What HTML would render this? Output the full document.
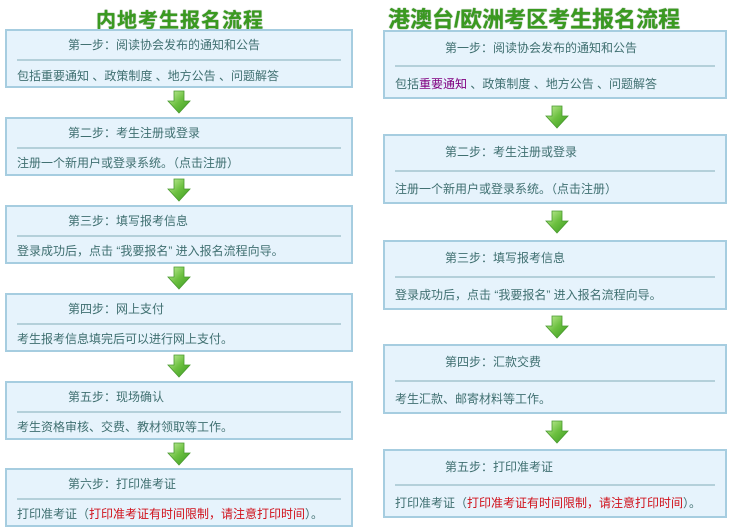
<!DOCTYPE html>
<html><head><meta charset="utf-8"><style>
body{margin:0;width:734px;height:532px;background:#fff;position:relative;overflow:hidden;font-family:"Liberation Sans","Noto Sans CJK SC",sans-serif;font-size:12px;color:#3f6f70}
.t{position:absolute;font-weight:bold;color:#3a9a20;text-shadow:0 0 1px #1a5a10;font-family:"Liberation Sans","Noto Sans CJK SC",sans-serif}
.b{position:absolute;background:#e6f3fc;border:2px solid #a6cde0;box-sizing:border-box}
.b .h{position:absolute;white-space:nowrap}
.b .l{position:absolute;height:2px;background:#b4d0da}
.b .c{position:absolute;white-space:nowrap}
.r{color:#d0101a}
.p{color:#800080}
.a{position:absolute;width:24px;height:24px}
</style></head><body>
<div class="t" style="left:96px;top:4px;font-size:20px;letter-spacing:1px">内地考生报名流程</div>
<div class="t" style="left:388px;top:2px;font-size:22px">港澳台/欧洲考区考生报名流程</div>

<!-- left -->
<div class="b" style="left:5px;top:29px;width:348px;height:59px"><div class="h" style="left:61px;top:5px">第一步：阅读协会发布的通知和公告</div><div class="l" style="left:10px;right:10px;top:28px"></div><div class="c" style="left:10px;top:36px">包括重要通知 、政策制度 、地方公告 、问题解答</div></div>
<div class="b" style="left:5px;top:117px;width:348px;height:59px"><div class="h" style="left:61px;top:5px">第二步：考生注册或登录</div><div class="l" style="left:10px;right:10px;top:28px"></div><div class="c" style="left:10px;top:35px">注册一个新用户或登录系统。（点击注册）</div></div>
<div class="b" style="left:5px;top:205px;width:348px;height:59px"><div class="h" style="left:61px;top:5px">第三步：填写报考信息</div><div class="l" style="left:10px;right:10px;top:28px"></div><div class="c" style="left:10px;top:35px">登录成功后，点击 “我要报名” 进入报名流程向导。</div></div>
<div class="b" style="left:5px;top:293px;width:348px;height:59px"><div class="h" style="left:61px;top:5px">第四步：网上支付</div><div class="l" style="left:10px;right:10px;top:28px"></div><div class="c" style="left:10px;top:35px">考生报考信息填完后可以进行网上支付。</div></div>
<div class="b" style="left:5px;top:381px;width:348px;height:59px"><div class="h" style="left:61px;top:5px">第五步：现场确认</div><div class="l" style="left:10px;right:10px;top:28px"></div><div class="c" style="left:10px;top:35px">考生资格审核、交费、教材领取等工作。</div></div>
<div class="b" style="left:5px;top:468px;width:348px;height:59px"><div class="h" style="left:61px;top:5px">第六步：打印准考证</div><div class="l" style="left:10px;right:10px;top:28px"></div><div class="c" style="left:10px;top:35px">打印准考证（<span class="r">打印准考证有时间限制，请注意打印时间</span>）。</div></div>

<!-- right -->
<div class="b" style="left:383px;top:30px;width:344px;height:69px"><div class="h" style="left:60px;top:7px">第一步：阅读协会发布的通知和公告</div><div class="l" style="left:10px;right:10px;top:33px"></div><div class="c" style="left:10px;top:43px">包括<span class="p">重要通知</span> 、政策制度 、地方公告 、问题解答</div></div>
<div class="b" style="left:383px;top:134px;width:344px;height:70px"><div class="h" style="left:60px;top:7px">第二步：考生注册或登录</div><div class="l" style="left:10px;right:10px;top:34px"></div><div class="c" style="left:10px;top:44px">注册一个新用户或登录系统。（点击注册）</div></div>
<div class="b" style="left:383px;top:240px;width:344px;height:70px"><div class="h" style="left:60px;top:7px">第三步：填写报考信息</div><div class="l" style="left:10px;right:10px;top:34px"></div><div class="c" style="left:10px;top:44px">登录成功后，点击 “我要报名” 进入报名流程向导。</div></div>
<div class="b" style="left:383px;top:344px;width:344px;height:70px"><div class="h" style="left:60px;top:7px">第四步：汇款交费</div><div class="l" style="left:10px;right:10px;top:34px"></div><div class="c" style="left:10px;top:44px">考生汇款、邮寄材料等工作。</div></div>
<div class="b" style="left:383px;top:449px;width:344px;height:69px"><div class="h" style="left:60px;top:7px">第五步：打印准考证</div><div class="l" style="left:10px;right:10px;top:33px"></div><div class="c" style="left:10px;top:43px">打印准考证（<span class="r">打印准考证有时间限制，请注意打印时间</span>）。</div></div>

<svg width="0" height="0" style="position:absolute"><defs><linearGradient id="g" x1="0" y1="0" x2="1" y2="1"><stop offset="0" stop-color="#c8f0a0"/><stop offset="0.5" stop-color="#6cc040"/><stop offset="1" stop-color="#3a9a20"/></linearGradient></defs></svg>
<svg class="a" style="left:167px;top:90px" viewBox="0 0 24 24"><path d="M7 1h10v10h6L12 23 1 11h6z" fill="url(#g)" stroke="#4a9a30" stroke-width="0.8"/></svg>
<svg class="a" style="left:167px;top:178px" viewBox="0 0 24 24"><path d="M7 1h10v10h6L12 23 1 11h6z" fill="url(#g)" stroke="#4a9a30" stroke-width="0.8"/></svg>
<svg class="a" style="left:167px;top:266px" viewBox="0 0 24 24"><path d="M7 1h10v10h6L12 23 1 11h6z" fill="url(#g)" stroke="#4a9a30" stroke-width="0.8"/></svg>
<svg class="a" style="left:167px;top:354px" viewBox="0 0 24 24"><path d="M7 1h10v10h6L12 23 1 11h6z" fill="url(#g)" stroke="#4a9a30" stroke-width="0.8"/></svg>
<svg class="a" style="left:167px;top:442px" viewBox="0 0 24 24"><path d="M7 1h10v10h6L12 23 1 11h6z" fill="url(#g)" stroke="#4a9a30" stroke-width="0.8"/></svg>
<svg class="a" style="left:545px;top:105px" viewBox="0 0 24 24"><path d="M7 1h10v10h6L12 23 1 11h6z" fill="url(#g)" stroke="#4a9a30" stroke-width="0.8"/></svg>
<svg class="a" style="left:545px;top:210px" viewBox="0 0 24 24"><path d="M7 1h10v10h6L12 23 1 11h6z" fill="url(#g)" stroke="#4a9a30" stroke-width="0.8"/></svg>
<svg class="a" style="left:545px;top:315px" viewBox="0 0 24 24"><path d="M7 1h10v10h6L12 23 1 11h6z" fill="url(#g)" stroke="#4a9a30" stroke-width="0.8"/></svg>
<svg class="a" style="left:545px;top:420px" viewBox="0 0 24 24"><path d="M7 1h10v10h6L12 23 1 11h6z" fill="url(#g)" stroke="#4a9a30" stroke-width="0.8"/></svg>
</body></html>
